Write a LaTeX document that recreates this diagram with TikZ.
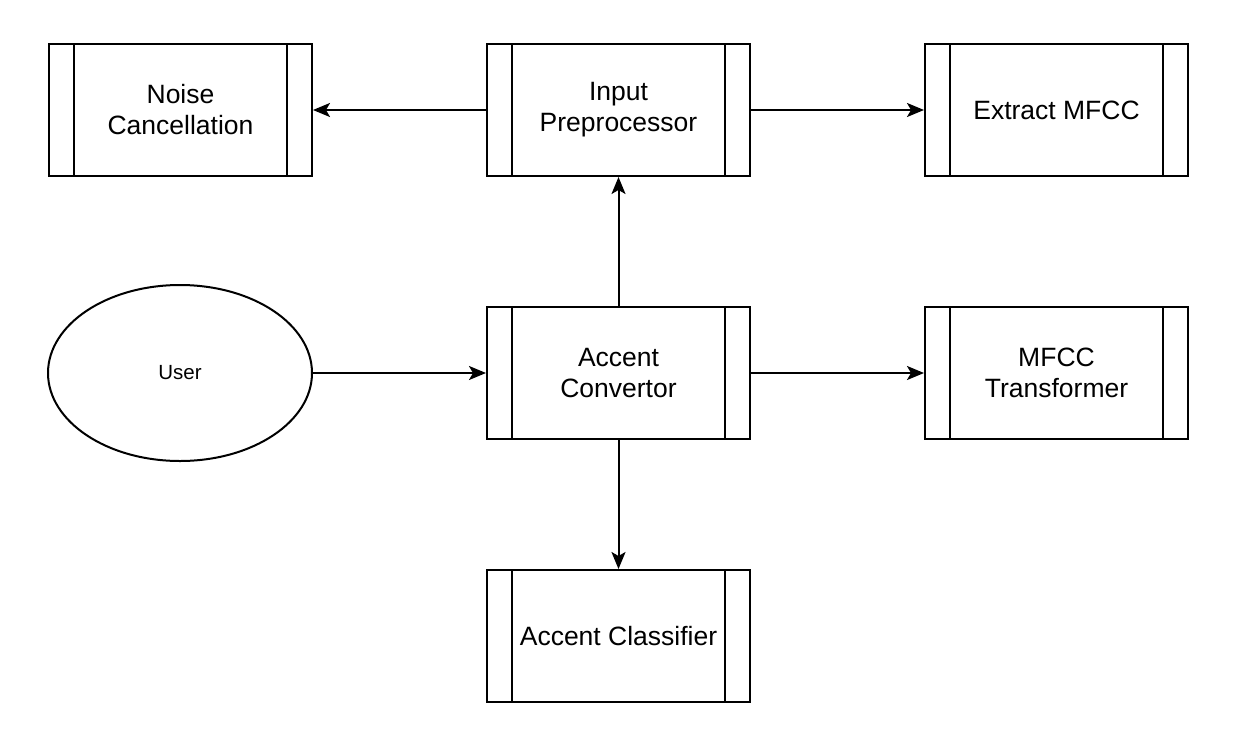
\documentclass[tikz,border=0pt]{standalone}
\usepackage{fontspec}
\setmainfont{Liberation Sans}
\usetikzlibrary{arrows.meta,shapes.geometric}
\begin{document}
\begin{tikzpicture}[x=1pt,y=-1pt,
  proc/.style={draw=black,line width=2pt,minimum width=263pt,minimum height=132pt,align=center,font=\fontsize{26.5}{31}\selectfont,inner sep=0pt},
  usr/.style={draw=black,line width=2pt,ellipse,minimum width=264pt,minimum height=176pt,inner sep=0pt,font=\fontsize{20.5}{24}\selectfont},
  conn/.style={line width=2pt,-{Stealth[length=17pt,width=14pt,inset=4pt]}}]
\useasboundingbox (0,0) rectangle (1249,731);
\newcommand{\bars}[1]{%
  \draw[line width=2pt] ([xshift=26pt]#1.north west) -- ([xshift=26pt]#1.south west);
  \draw[line width=2pt] ([xshift=-26pt]#1.north east) -- ([xshift=-26pt]#1.south east);}
\node[proc] (noise) at (180.5,110) {Noise\\Cancellation};
\node[proc] (inp) at (618.5,110) {Input\\Preprocessor};
\node[proc] (mfcc) at (1056.5,110) {Extract MFCC};
\node[proc] (acc) at (618.5,373) {Accent\\Convertor};
\node[proc] (trans) at (1056.5,373) {MFCC\\Transformer};
\node[proc] (cls) at (618.5,636) {Accent Classifier};
\node[usr] (user) at (180,373) {User};
\bars{noise}\bars{inp}\bars{mfcc}\bars{acc}\bars{trans}\bars{cls}
\draw[conn] (inp.west) -- (noise.east);
\draw[conn] (inp.east) -- (mfcc.west);
\draw[conn] (acc.north) -- (inp.south);
\draw[conn] (user.east) -- (acc.west);
\draw[conn] (acc.east) -- (trans.west);
\draw[conn] (acc.south) -- (cls.north);
\end{tikzpicture}
\end{document}
